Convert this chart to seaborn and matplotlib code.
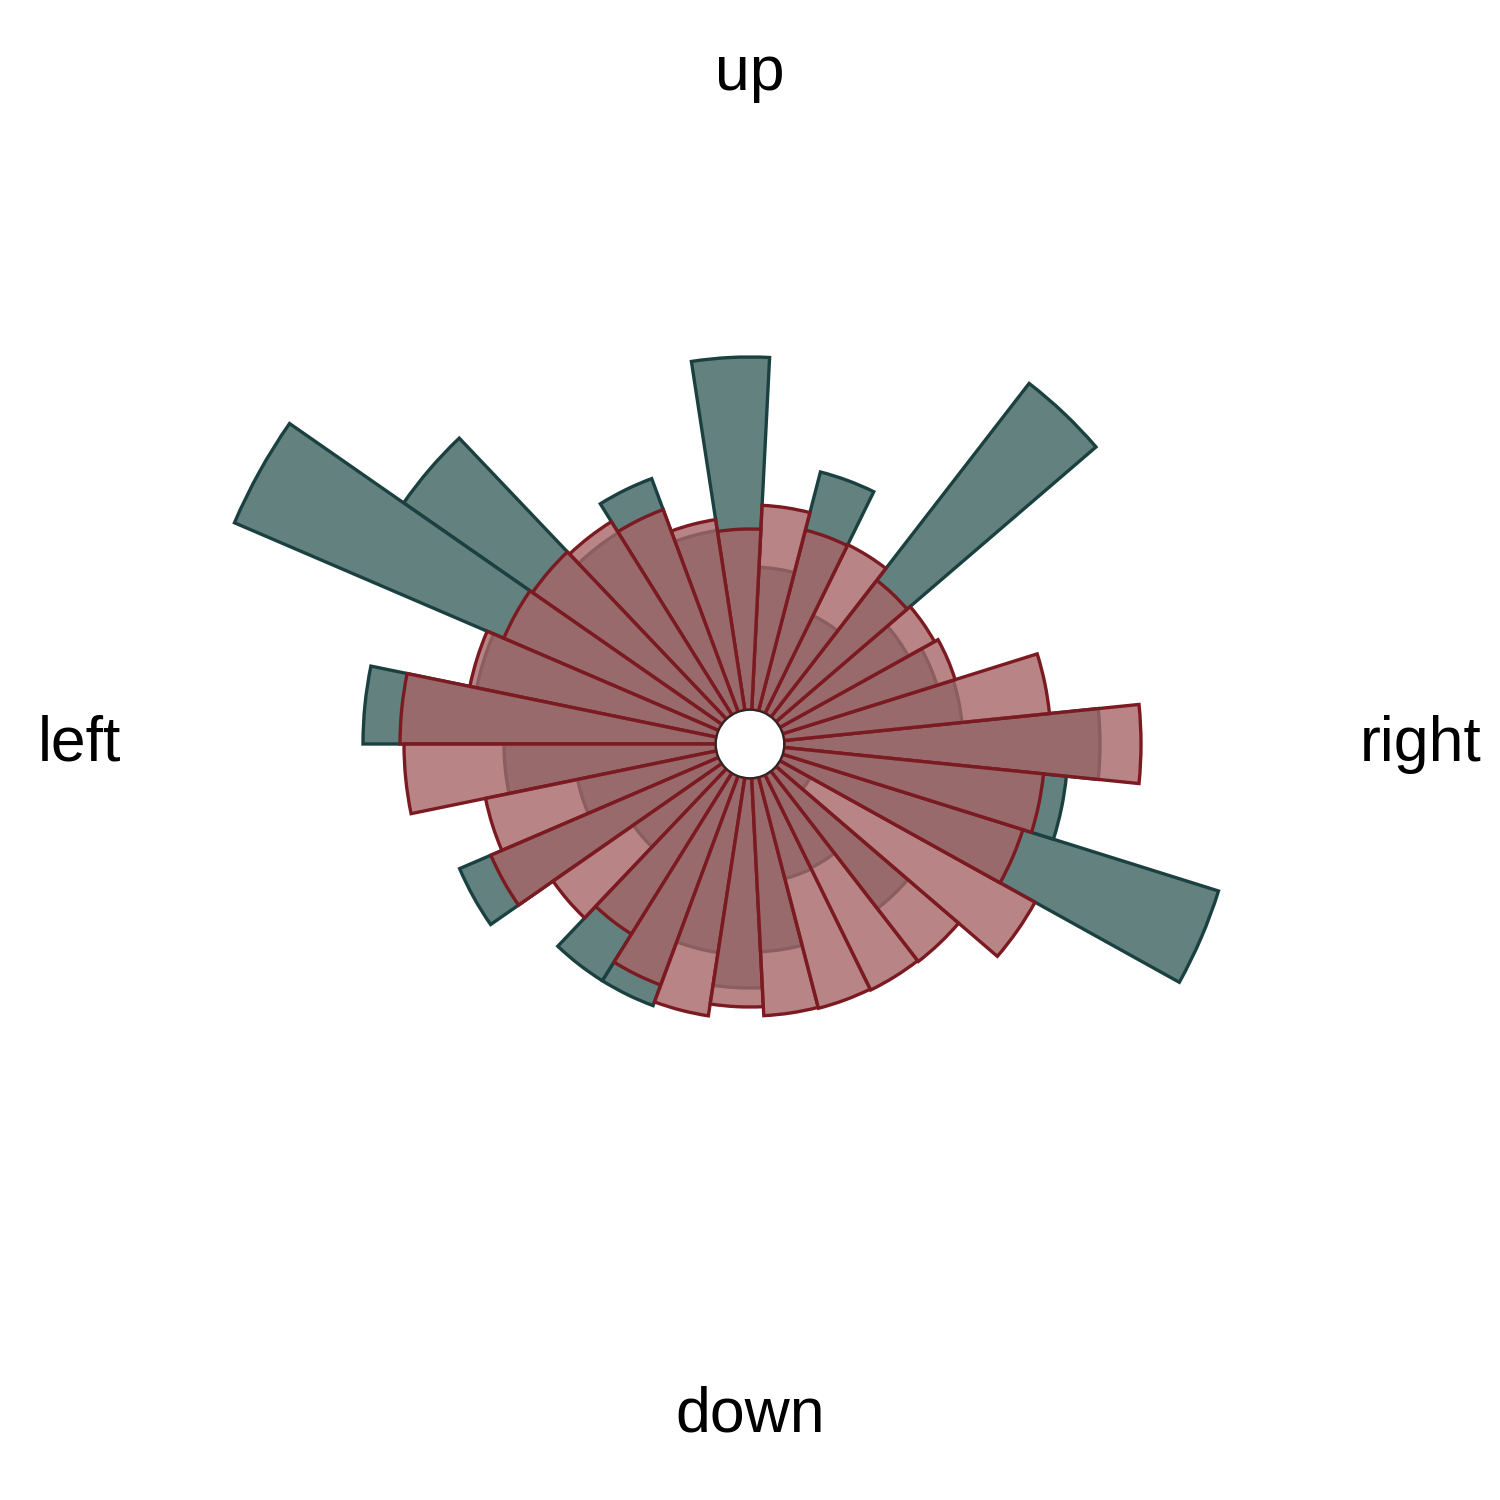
import numpy as np
import matplotlib
matplotlib.use("Agg")
import matplotlib.pyplot as plt
import seaborn as sns

# 31 direction bins, angle measured from "right", counter-clockwise
n_bins = 31
bin_width = 360 / n_bins
bin_centers = np.arange(n_bins) * bin_width

# counts per bin
teal_counts = [31.6, 17.9, 16.2, 14.7, 42.2, 10.9, 24.7, 14.3, 35.3, 18.2,
               24.9, 21.5, 38.8, 52.7, 24.5, 35.3, 21.2, 14.2, 28.2, 10.8,
               24.5, 24.5, 17.7, 21.0, 17.4, 10.5, 10.4, 17.4, 3.5, 45.7,
               28.4]
red_counts = [35.7, 26.7, 18.1, 17.7, 17.3, 18.8, 18.7, 20.5, 18.1, 19.3,
              21.6, 22.8, 23.1, 23.4, 25.2, 31.6, 31.2, 23.6, 24.8, 20.6,
              19.0, 22.3, 24.1, 22.9, 23.8, 23.9, 24.0, 24.1, 29.2, 25.2,
              26.1]

direction_angles = [0, 90, 180, 270]
direction_labels = ["right", "up", "left", "down"]

sns.set_theme(style="white")
plt.rcParams["font.family"] = ["Liberation Sans", "DejaVu Sans"]

fig = plt.figure(figsize=(15, 15), dpi=100)
ax = fig.add_axes([0.1, 0.104, 0.8, 0.8], projection="polar")

theta = np.deg2rad(bin_centers)
w = np.deg2rad(bin_width)

ax.bar(theta, teal_counts, width=w, bottom=0,
       facecolor="#62817f", edgecolor="#1b4040", linewidth=2.4)
ax.bar(theta, red_counts, width=w, bottom=0,
       facecolor=(0.655, 0.396, 0.408, 0.8), edgecolor="#7b1a20", linewidth=2.4)

ax.set_rorigin(-3.4)
ax.set_ylim(0, 56.6)
ax.set_yticks([])
ax.set_xticks(np.deg2rad(direction_angles))
ax.set_xticklabels(direction_labels, fontsize=45, color="black")
ax.tick_params(axis="x", pad=38)
ax.grid(False)
ax.spines["polar"].set_visible(False)
ax.set_facecolor("white")

fig.savefig("out.png", dpi=100, facecolor="white")
